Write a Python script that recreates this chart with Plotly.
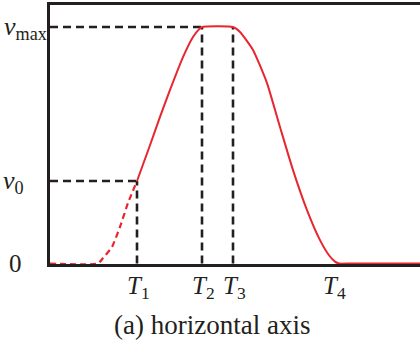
import plotly.graph_objects as go

# Data (x in time units, y in units of v_max)
T_labels = ["T<sub>1</sub>", "T<sub>2</sub>", "T<sub>3</sub>", "T<sub>4</sub>"]
T_values = [87, 152, 183, 283]
v0 = 0.349
vmax = 1.0

# dashed (extrapolated) part of the velocity curve
dash_x = [0, 48, 53, 62, 70, 78, 87]
dash_y = [0, 0, 0.023, 0.07, 0.155, 0.256, 0.349]

# solid part of the velocity curve
solid_x = [87, 100, 110, 120, 133, 143, 149, 152, 183, 190, 203, 217, 230, 243, 257, 270, 279, 285, 289, 300, 370]
solid_y = [0.349, 0.50, 0.62, 0.734, 0.873, 0.958, 0.99, 1.0, 1.0, 0.979, 0.903, 0.763, 0.577, 0.395, 0.226, 0.099, 0.035, 0.008, 0.0, 0.0, 0.0]

RED = "#e8262e"
BLACK = "#231f20"
FONT = "Liberation Serif, Times New Roman, serif"

PLOT_TOP, PLOT_BOTTOM = 5, 264
PLOT_H = PLOT_BOTTOM - PLOT_TOP


def py(pix):
    """pixel row -> paper y"""
    return (PLOT_BOTTOM - pix) / PLOT_H


fig = go.Figure()

T1, T2, T3, T4 = T_values
guides = [
    ([0, T2], [vmax, vmax]),
    ([T2, T2], [0, vmax]),
    ([T3, T3], [0, vmax]),
    ([0, T1], [v0, v0]),
    ([T1, T1], [0, v0]),
]
for gx, gy in guides:
    fig.add_trace(go.Scatter(x=gx, y=gy, mode="lines",
                             line=dict(color=BLACK, width=2.6, dash="8px,5px"),
                             hoverinfo="skip", showlegend=False))

fig.add_trace(go.Scatter(x=dash_x, y=dash_y, mode="lines",
                         line=dict(color=RED, width=2.2, dash="6px,4px", shape="spline", smoothing=0.5),
                         showlegend=False))
fig.add_trace(go.Scatter(x=solid_x, y=solid_y, mode="lines",
                         line=dict(color=RED, width=2, shape="spline", smoothing=0.5),
                         showlegend=False))

annotations = []
for lab, tv in zip(T_labels, T_values):
    annotations.append(dict(x=tv, xref="x", y=py(287), yref="paper", yanchor="middle",
                            text="<i>" + lab[0] + "</i>" + lab[1:], showarrow=False, xshift=1,
                            font=dict(family=FONT, size=25, color=BLACK)))
annotations.append(dict(x=0, xref="paper", xanchor="right", y=vmax, yref="y", yanchor="middle",
                        text="<i>v</i><sub>max</sub>", showarrow=False, xshift=-1, yshift=-1,
                        font=dict(family=FONT, size=26, color=BLACK)))
annotations.append(dict(x=0, xref="paper", xanchor="right", y=v0, yref="y", yanchor="middle",
                        text="<i>v</i><sub>0</sub>", showarrow=False, xshift=-24, yshift=-1,
                        font=dict(family=FONT, size=26, color=BLACK)))
annotations.append(dict(x=0, xref="paper", xanchor="right", y=0, yref="y", yanchor="middle",
                        text="0", showarrow=False, xshift=-26,
                        font=dict(family=FONT, size=25, color=BLACK)))
annotations.append(dict(x=(212 - 50) / 370.0, xref="paper", y=py(325), yref="paper",
                        yanchor="middle", text="(a) horizontal axis", showarrow=False,
                        font=dict(family=FONT, size=27, color=BLACK)))

fig.update_layout(
    width=420, height=346,
    margin=dict(l=50, r=0, t=PLOT_TOP, b=346 - PLOT_BOTTOM),
    paper_bgcolor="white", plot_bgcolor="white",
    xaxis=dict(range=[0, 370], showgrid=False, zeroline=False, showticklabels=False, ticks="",
               showline=True, linewidth=3, linecolor=BLACK, mirror=True),
    yaxis=dict(range=[-0.002, 1.093], showgrid=False, zeroline=False, showticklabels=False, ticks="",
               showline=True, linewidth=3, linecolor=BLACK),
    annotations=annotations,
    showlegend=False,
)

fig.write_html("out.html", config={"displayModeBar": False},
               post_script="document.body.style.margin='0';")
